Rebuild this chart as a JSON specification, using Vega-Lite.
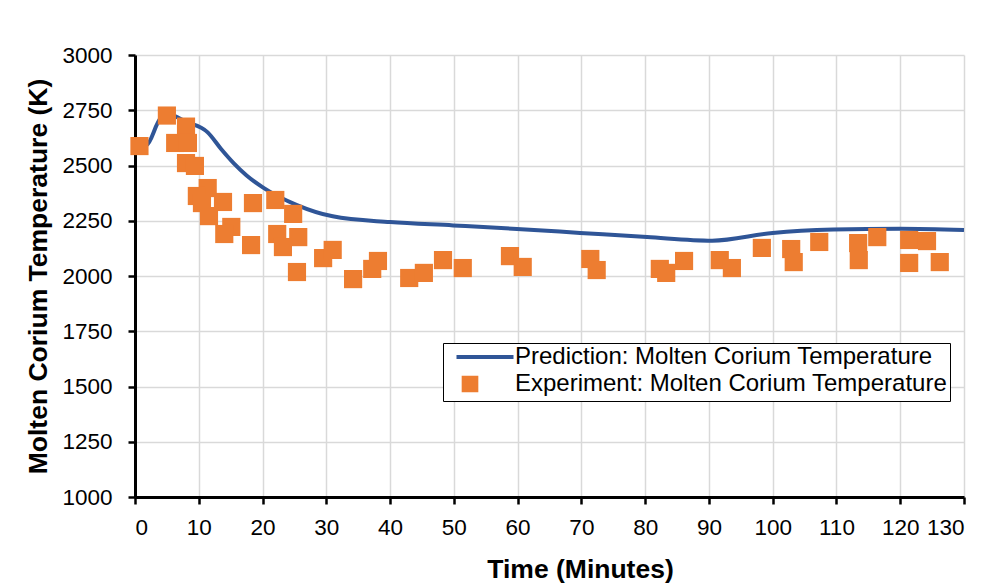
{
  "$schema": "https://vega.github.io/schema/vega-lite/v6.json",
  "width": 829,
  "height": 442,
  "autosize": {"type": "none"},
  "padding": {"left": 135, "top": 55, "right": 26, "bottom": 88},
  "background": "white",
  "config": {
    "font": "Liberation Sans",
    "view": {"stroke": null},
    "axis": {
      "labelFont": "Liberation Sans",
      "labelFontSize": 22.5,
      "labelColor": "black",
      "titleFont": "Liberation Sans",
      "titleFontSize": 26.5,
      "titleFontWeight": "bold",
      "titleColor": "black",
      "domainColor": "black",
      "domainWidth": 3,
      "tickColor": "black",
      "tickWidth": 2.5,
      "tickSize": 7,
      "gridColor": "#d9d9d9",
      "gridWidth": 1.5
    }
  },
  "datasets": {
    "pred": [
      {"t": 0, "temp": 2585, "series": "Prediction: Molten Corium Temperature"},
      {"t": 1.8, "temp": 2592, "series": "Prediction: Molten Corium Temperature"},
      {"t": 4.0, "temp": 2712, "series": "Prediction: Molten Corium Temperature"},
      {"t": 5.5, "temp": 2728, "series": "Prediction: Molten Corium Temperature"},
      {"t": 8.0, "temp": 2698, "series": "Prediction: Molten Corium Temperature"},
      {"t": 11.4, "temp": 2650, "series": "Prediction: Molten Corium Temperature"},
      {"t": 13.5, "temp": 2575, "series": "Prediction: Molten Corium Temperature"},
      {"t": 15.5, "temp": 2510, "series": "Prediction: Molten Corium Temperature"},
      {"t": 17.5, "temp": 2455, "series": "Prediction: Molten Corium Temperature"},
      {"t": 20.1, "temp": 2400, "series": "Prediction: Molten Corium Temperature"},
      {"t": 25.4, "temp": 2321, "series": "Prediction: Molten Corium Temperature"},
      {"t": 31, "temp": 2270, "series": "Prediction: Molten Corium Temperature"},
      {"t": 40, "temp": 2244, "series": "Prediction: Molten Corium Temperature"},
      {"t": 49.9, "temp": 2229, "series": "Prediction: Molten Corium Temperature"},
      {"t": 59.9, "temp": 2213, "series": "Prediction: Molten Corium Temperature"},
      {"t": 69.8, "temp": 2195, "series": "Prediction: Molten Corium Temperature"},
      {"t": 80.3, "temp": 2176, "series": "Prediction: Molten Corium Temperature"},
      {"t": 90.5, "temp": 2160, "series": "Prediction: Molten Corium Temperature"},
      {"t": 100, "temp": 2195, "series": "Prediction: Molten Corium Temperature"},
      {"t": 109.5, "temp": 2210, "series": "Prediction: Molten Corium Temperature"},
      {"t": 120, "temp": 2214, "series": "Prediction: Molten Corium Temperature"},
      {"t": 130, "temp": 2208, "series": "Prediction: Molten Corium Temperature"}
    ],
    "exp": [
      {"t": 0.7, "temp": 2588},
      {"t": 5.0, "temp": 2726},
      {"t": 6.3, "temp": 2602},
      {"t": 8.0, "temp": 2676},
      {"t": 8.3, "temp": 2602},
      {"t": 8.0, "temp": 2511},
      {"t": 9.4, "temp": 2498},
      {"t": 11.4, "temp": 2398},
      {"t": 9.7, "temp": 2362},
      {"t": 10.5, "temp": 2330},
      {"t": 13.8, "temp": 2335},
      {"t": 11.6, "temp": 2271},
      {"t": 15.1, "temp": 2222},
      {"t": 14.0, "temp": 2190},
      {"t": 18.5, "temp": 2330},
      {"t": 22.0, "temp": 2344},
      {"t": 24.8, "temp": 2281},
      {"t": 18.2, "temp": 2140},
      {"t": 22.3, "temp": 2190},
      {"t": 25.6, "temp": 2176},
      {"t": 23.2, "temp": 2131},
      {"t": 25.4, "temp": 2018},
      {"t": 29.5, "temp": 2081},
      {"t": 31.0, "temp": 2118},
      {"t": 34.2, "temp": 1986},
      {"t": 37.2, "temp": 2032},
      {"t": 38.1, "temp": 2068},
      {"t": 43.0, "temp": 1991},
      {"t": 45.3, "temp": 2014},
      {"t": 48.3, "temp": 2072},
      {"t": 51.4, "temp": 2036},
      {"t": 58.8, "temp": 2090},
      {"t": 60.8, "temp": 2041},
      {"t": 71.4, "temp": 2077},
      {"t": 72.4, "temp": 2027},
      {"t": 82.3, "temp": 2032},
      {"t": 83.3, "temp": 2014},
      {"t": 86.1, "temp": 2068},
      {"t": 91.7, "temp": 2072},
      {"t": 93.6, "temp": 2036},
      {"t": 98.3, "temp": 2127},
      {"t": 102.9, "temp": 2122},
      {"t": 103.3, "temp": 2063},
      {"t": 107.3, "temp": 2154},
      {"t": 113.4, "temp": 2149},
      {"t": 113.5, "temp": 2072},
      {"t": 116.4, "temp": 2176},
      {"t": 121.4, "temp": 2163},
      {"t": 121.4, "temp": 2059},
      {"t": 124.2, "temp": 2158},
      {"t": 126.2, "temp": 2063}
    ]
  },
  "encoding": {
    "x": {
      "field": "t",
      "type": "quantitative",
      "title": "Time (Minutes)",
      "scale": {"domain": [0, 130], "nice": false},
      "axis": {"values": [0,10,20,30,40,50,60,70,80,90,100,110,120,130], "format": "d", "labelPadding": 12, "titlePadding": 18, "titleX": 445, "titleAlign": "center"}
    },
    "y": {
      "field": "temp",
      "type": "quantitative",
      "title": "Molten Corium Temperature (K)",
      "scale": {"domain": [1000, 3000], "nice": false, "zero": false},
      "axis": {"values": [1000,1250,1500,1750,2000,2250,2500,2750,3000], "format": "d", "labelPadding": 16, "titlePadding": 9}
    },
    "color": {
      "field": "series",
      "type": "nominal",
      "scale": {
        "domain": ["Prediction: Molten Corium Temperature", "Experiment: Molten Corium Temperature"],
        "range": ["#2f5597", "#ed7d31"]
      },
      "legend": {
        "title": null,
        "orient": "none",
        "legendX": 308,
        "legendY": 288,
        "labelFont": "Liberation Sans",
        "labelFontSize": 24,
        "labelLimit": 0,
        "labelColor": "black",
        "strokeColor": "black",
        "fillColor": "white",
        "padding": 2,
        "rowPadding": 0,
        "symbolSize": 500,
        "symbolOffset": 0,
        "labelOffset": 0,
        "encode": {
          "symbols": {
            "update": {
              "x": {"signal": "datum.index === 0 ? 40 : 25"},
              "shape": {"signal": "datum.index === 0 ? 'stroke' : 'square'"},
              "size": {"signal": "datum.index === 0 ? 3250 : 160"},
              "fill": {"signal": "datum.index === 0 ? 'transparent' : '#ed7d31'"},
              "stroke": {"signal": "datum.index === 0 ? '#2f5597' : 'transparent'"},
              "strokeWidth": {"value": 4}
            }
          },
          "labels": {
            "update": {
              "x": {"value": 70}
            }
          }
        }
      }
    }
  },
  "layer": [
    {
      "data": {"name": "pred"},
      "mark": {"type": "line", "strokeWidth": 4, "interpolate": "monotone"}
    },
    {
      "data": {"name": "exp"},
      "transform": [{"calculate": "'Experiment: Molten Corium Temperature'", "as": "series"}],
      "mark": {"type": "square", "size": 330, "opacity": 1, "filled": true}
    }
  ]
}
